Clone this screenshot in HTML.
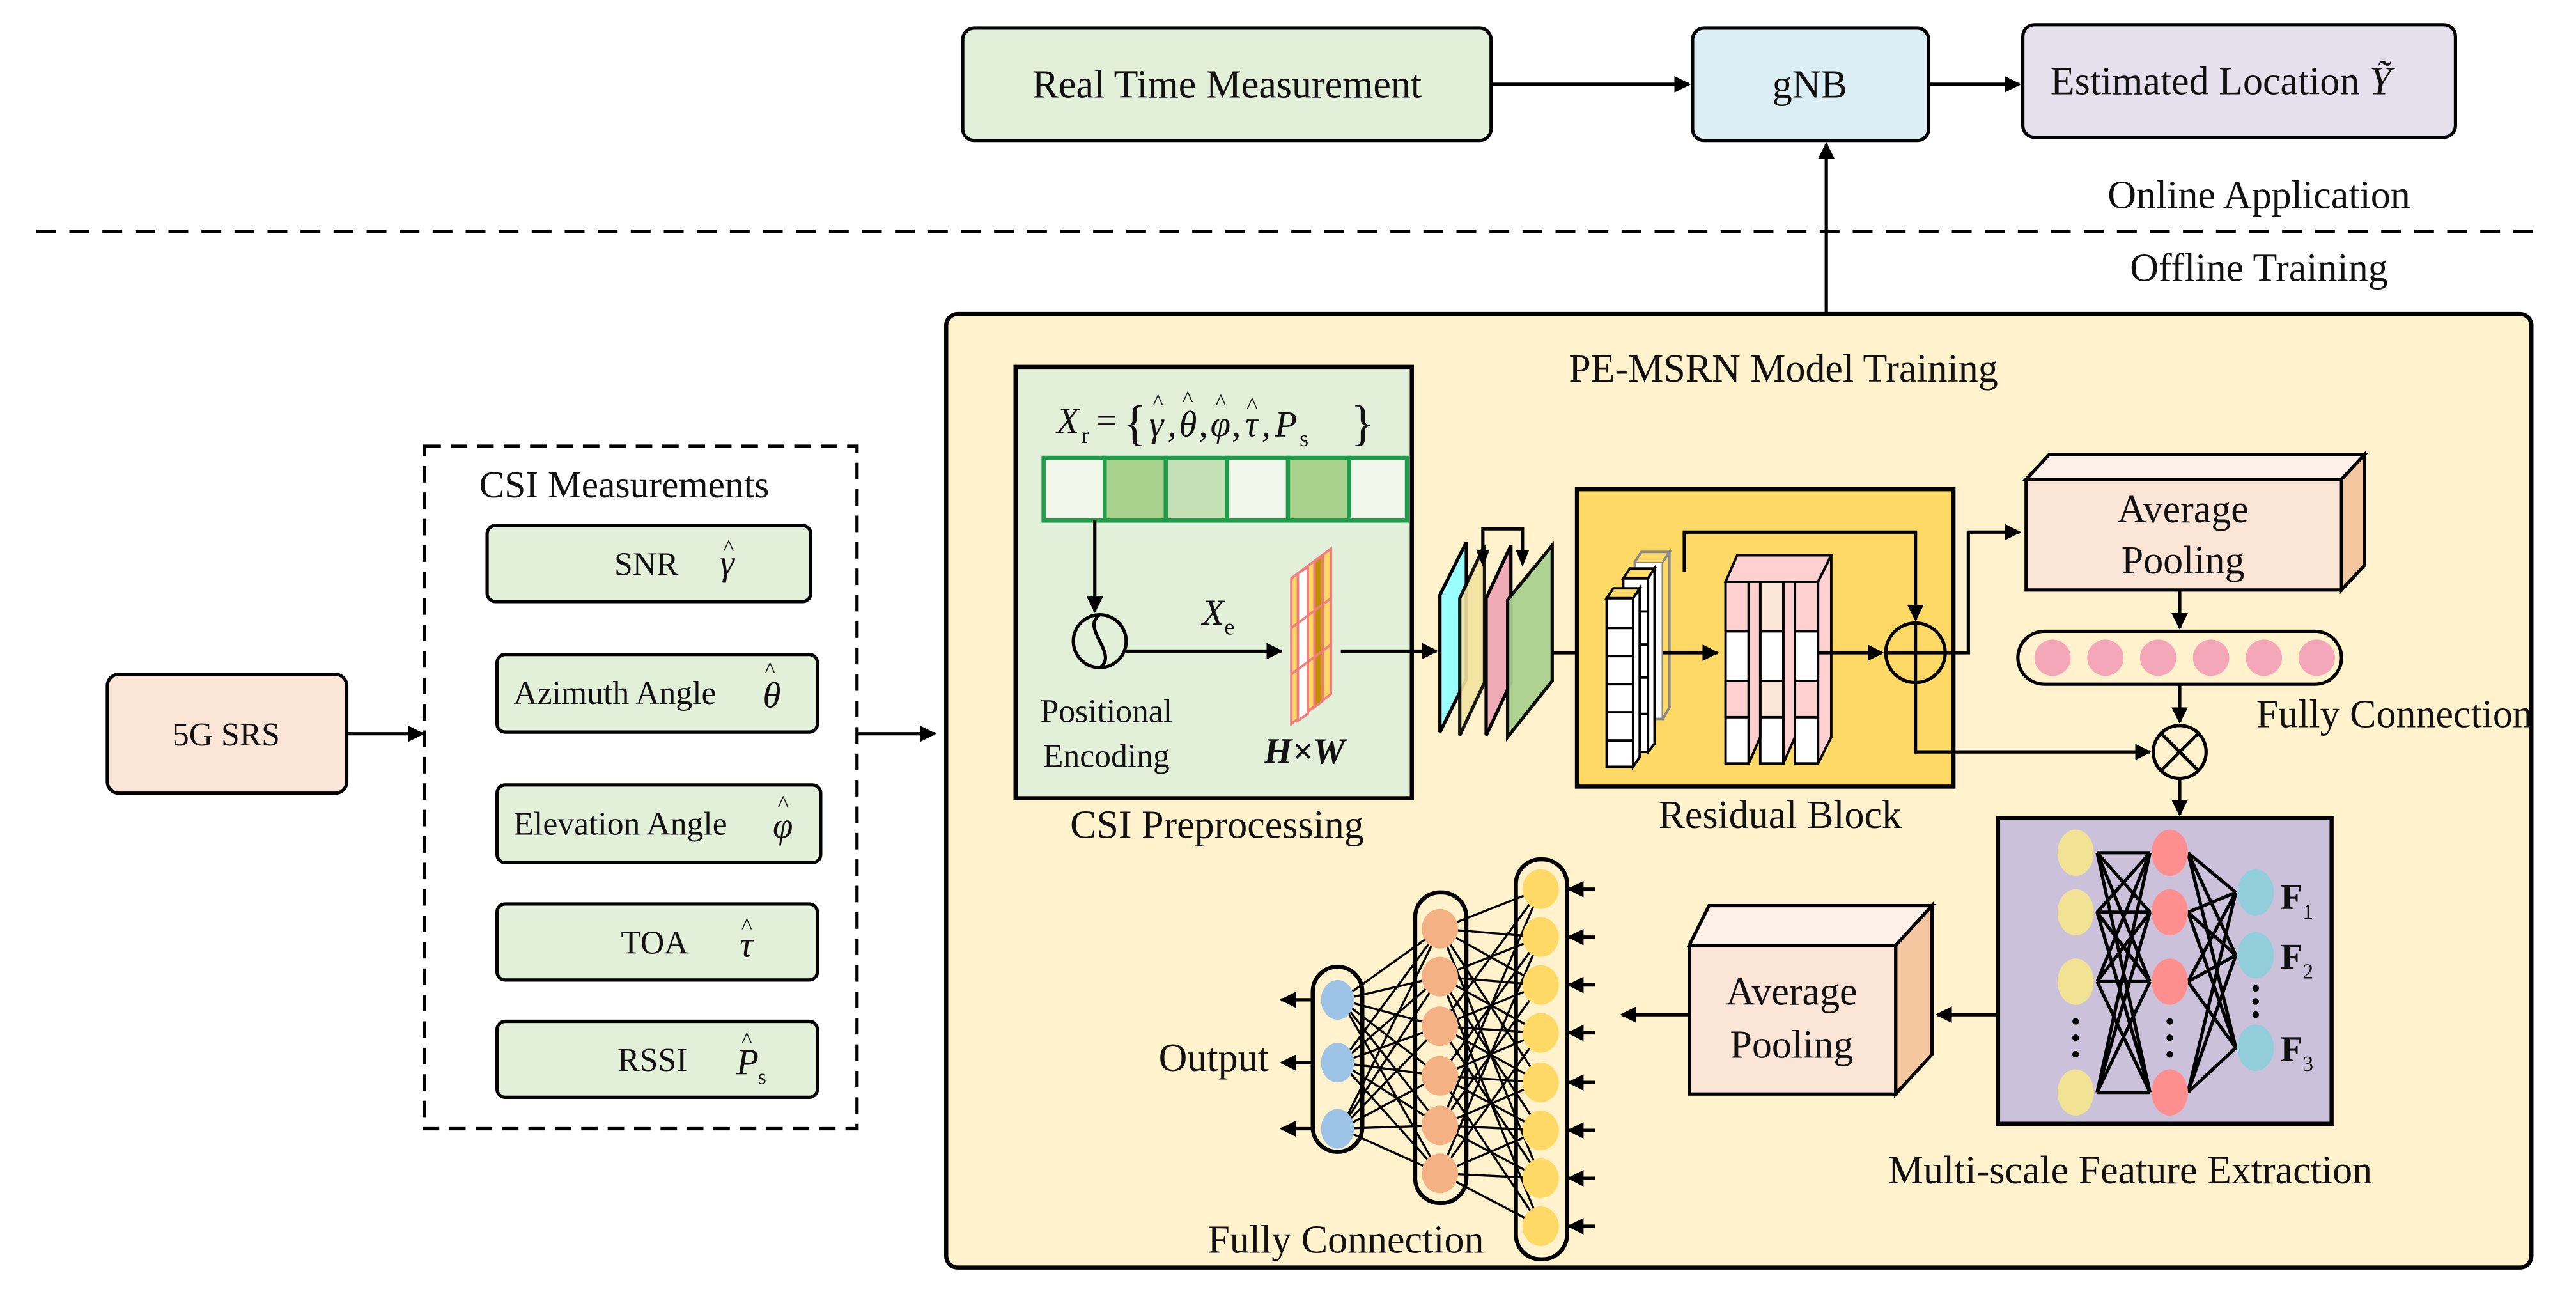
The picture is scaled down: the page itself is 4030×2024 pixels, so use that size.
<!DOCTYPE html>
<html><head><meta charset="utf-8"><style>html,body{margin:0;padding:0;background:#fff}svg{display:block}text{font-family:"Liberation Serif",serif;fill:#111}</style></head>
<body>
<svg width="4030" height="2024" viewBox="0 0 1560 783" preserveAspectRatio="none" xmlns="http://www.w3.org/2000/svg">
<defs>
<marker id="a" markerWidth="10" markerHeight="10" refX="9" refY="5" orient="auto" markerUnits="userSpaceOnUse"><path d="M0,0 L10,5 L0,10 Z" fill="#000"/></marker>
</defs>
<rect width="1560" height="783" fill="#fff"/>
<!-- top -->
<rect x="583" y="17" width="320" height="68" rx="7" fill="#e2efd9" stroke="#000" stroke-width="2"/>
<text x="743" y="59" font-size="24" text-anchor="middle">Real Time Measurement</text>
<rect x="1025" y="17" width="143" height="68" rx="7" fill="#daeef3" stroke="#000" stroke-width="2"/>
<text x="1096" y="59" font-size="24" text-anchor="middle">gNB</text>
<rect x="1225" y="15" width="262" height="68" rx="7" fill="#e6e0ec" stroke="#000" stroke-width="2"/>
<text x="1345" y="57" font-size="24" text-anchor="middle">Estimated Location <tspan font-style="italic">Ỹ</tspan></text>
<line x1="903" y1="51" x2="1023" y2="51" stroke="#000" stroke-width="2" marker-end="url(#a)"/>
<line x1="1168" y1="51" x2="1223" y2="51" stroke="#000" stroke-width="2" marker-end="url(#a)"/>
<line x1="1106" y1="190" x2="1106" y2="87" stroke="#000" stroke-width="2" marker-end="url(#a)"/>
<line x1="22" y1="140" x2="1540" y2="140" stroke="#000" stroke-width="2" stroke-dasharray="12,8"/>
<text x="1368" y="126" font-size="24" text-anchor="middle">Online Application</text>
<text x="1368" y="170" font-size="24" text-anchor="middle">Offline Training</text>
<!-- left -->
<rect x="65" y="408" width="145" height="72" rx="7" fill="#fbe5d6" stroke="#000" stroke-width="2"/>
<text x="137" y="451" font-size="20" text-anchor="middle">5G SRS</text>
<line x1="210" y1="444" x2="256" y2="444" stroke="#000" stroke-width="2" marker-end="url(#a)"/>
<rect x="257" y="270" width="262" height="413" fill="none" stroke="#000" stroke-width="2" stroke-dasharray="10,6"/>
<text x="378" y="301" font-size="23" text-anchor="middle">CSI Measurements</text>
<g stroke="#000" stroke-width="2" fill="#e2efd9">
<rect x="295" y="318" width="196" height="46" rx="5"/>
<rect x="301" y="396" width="194" height="47" rx="5"/>
<rect x="301" y="475" width="196" height="47" rx="5"/>
<rect x="301" y="547" width="194" height="46" rx="5"/>
<rect x="301" y="618" width="194" height="46" rx="5"/>
</g>
<g font-size="20">
<text x="372" y="348">SNR</text><text x="436" y="348" font-style="italic" font-size="22">γ</text><text x="438" y="336" font-size="14">^</text>
<text x="311" y="426">Azimuth Angle</text><text x="462" y="428" font-style="italic" font-size="22">θ</text><text x="463" y="410" font-size="14">^</text>
<text x="311" y="505">Elevation Angle</text><text x="468" y="507" font-style="italic" font-size="22">φ</text><text x="471" y="491" font-size="14">^</text>
<text x="376" y="577">TOA</text><text x="448" y="579" font-style="italic" font-size="22">τ</text><text x="449" y="565" font-size="14">^</text>
<text x="374" y="648">RSSI</text><text x="446" y="650" font-style="italic" font-size="22">P</text><text x="449" y="634" font-size="14">^</text><text x="459" y="656" font-size="13">s</text>
</g>
<line x1="519" y1="444" x2="566" y2="444" stroke="#000" stroke-width="2" marker-end="url(#a)"/>
<!-- main -->
<rect x="573" y="190" width="960" height="577" rx="7" fill="#fff2cc" stroke="#000" stroke-width="2.5"/>
<text x="1080" y="231" font-size="24" text-anchor="middle">PE-MSRN Model Training</text>
<!-- CSI preprocessing -->
<rect x="615" y="222" width="240" height="261" fill="#e2efd9" stroke="#000" stroke-width="2.5"/>
<g font-size="22">
<text x="640" y="262" font-style="italic">X</text><text x="655" y="268" font-size="14">r</text>
<text x="664" y="262">=</text>
<text x="680" y="266" font-size="30">{</text>
<text x="696" y="264" font-style="italic">γ</text><text x="698" y="248" font-size="14">^</text><text x="707" y="264">,</text>
<text x="714" y="264" font-style="italic">θ</text><text x="716" y="246" font-size="14">^</text><text x="726" y="264">,</text>
<text x="733" y="264" font-style="italic">φ</text><text x="736" y="248" font-size="14">^</text><text x="746" y="264">,</text>
<text x="754" y="264" font-style="italic">τ</text><text x="755" y="250" font-size="14">^</text><text x="764" y="264">,</text>
<text x="772" y="264" font-style="italic">P</text><text x="787" y="270" font-size="14">s</text>
<text x="818" y="266" font-size="30">}</text>
</g>
<g stroke="#1e9c4a" stroke-width="2.5">
<rect x="632" y="277" width="37" height="38" fill="#f0f7ea"/>
<rect x="669" y="277" width="37" height="38" fill="#a9d18e"/>
<rect x="706" y="277" width="37" height="38" fill="#c5e0b4"/>
<rect x="743" y="277" width="37" height="38" fill="#f0f7ea"/>
<rect x="780" y="277" width="37" height="38" fill="#a9d18e"/>
<rect x="817" y="277" width="35" height="38" fill="#f0f7ea"/>
</g>
<line x1="663" y1="315" x2="663" y2="370" stroke="#000" stroke-width="2" marker-end="url(#a)"/>
<circle cx="666" cy="388" r="16" fill="none" stroke="#000" stroke-width="2"/>
<path d="M666,372 C654,380 678,396 666,404" fill="none" stroke="#000" stroke-width="2"/>
<line x1="682" y1="394" x2="776" y2="394" stroke="#000" stroke-width="2" marker-end="url(#a)"/>
<text x="728" y="378" font-size="22" font-style="italic">X<tspan font-size="14" dy="6" font-style="normal">e</tspan></text>
<g stroke="#f08080" stroke-width="1.5">
<path d="M782,350 L806,332 L806,420 L782,438 Z" fill="#ffd966"/>
<path d="M786,347 L792,343 L792,432 L786,436 Z" fill="#fff"/>
<path d="M796,340 L801,336 L801,424 L796,428 Z" fill="#c09000"/>
<line x1="782" y1="380" x2="806" y2="362"/><line x1="782" y1="408" x2="806" y2="390"/>
</g>
<text x="790" y="462" font-size="22" font-style="italic" font-weight="bold" text-anchor="middle">H×W</text>
<text x="670" y="437" font-size="20" text-anchor="middle">Positional</text>
<text x="670" y="464" font-size="20" text-anchor="middle">Encoding</text>
<text x="737" y="507" font-size="24" text-anchor="middle">CSI Preprocessing</text>
<line x1="812" y1="394" x2="870" y2="394" stroke="#000" stroke-width="2" marker-end="url(#a)"/>
<!-- conv planes -->
<g stroke="#000" stroke-width="2">
<path d="M872,360 L888,328 L888,411 L872,443 Z" fill="#99ffff"/>
<path d="M884,362 L899,330 L899,413 L884,445 Z" fill="#f2e3a0" opacity="0.9"/>
<path d="M900,362 L915,330 L915,413 L900,445 Z" fill="#eeaab5"/>
<path d="M913,363 L940,330 L940,412 L913,446 Z" fill="#a9d18e" opacity="0.95"/>
<path d="M898,335 L898,320 L922,320 L922,335" fill="none"/>
</g>
<path d="M894,333 L898,343 L902,333 Z"/><path d="M918,333 L922,343 L926,333 Z"/>
<line x1="940" y1="395" x2="970" y2="395" stroke="#000" stroke-width="2" marker-end="url(#a)"/>
<!-- residual -->
<rect x="955" y="296" width="228" height="180" fill="#ffd966" stroke="#000" stroke-width="2.5"/>
<g stroke="#888" stroke-width="1.5" fill="#fff"><rect x="990" y="340" width="17" height="95"/><path d="M990,340 L994,334 L1011,334 L1007,340 M1007,340 L1011,334 L1011,428 L1007,435" fill="#ffd966"/></g>
<g stroke="#000" stroke-width="1.5"><rect x="983" y="350" width="15" height="105" fill="#fff"/><path d="M983,350 L987,344 L1002,344 L998,350 Z" fill="#ffd966"/><path d="M998,350 L1002,344 L1002,450 L998,455 Z" fill="#fff"/>
<line x1="983" y1="370" x2="998" y2="370"/><line x1="983" y1="390" x2="998" y2="390"/><line x1="983" y1="410" x2="998" y2="410"/><line x1="983" y1="432" x2="998" y2="432"/></g>
<g stroke="#000" stroke-width="1.5"><rect x="973" y="362" width="16" height="102" fill="#fff"/><path d="M973,362 L977,356 L993,356 L989,362 Z" fill="#ffd966"/><path d="M989,362 L993,356 L993,458 L989,464 Z" fill="#fff"/>
<line x1="973" y1="380" x2="989" y2="380"/><line x1="973" y1="397" x2="989" y2="397"/><line x1="973" y1="414" x2="989" y2="414"/><line x1="973" y1="431" x2="989" y2="431"/><line x1="973" y1="448" x2="989" y2="448"/></g>
<line x1="1007" y1="395" x2="1040" y2="395" stroke="#000" stroke-width="2" marker-end="url(#a)"/>
<g stroke="#000" stroke-width="1.5">
<rect x="1045" y="352" width="14" height="110" fill="#fff"/><rect x="1045" y="352" width="14" height="30" fill="#ffd0d0"/><rect x="1045" y="412" width="14" height="22" fill="#ffd0d0"/>
<rect x="1066" y="352" width="14" height="110" fill="#fff"/><rect x="1066" y="352" width="14" height="30" fill="#fbe5d6"/><rect x="1066" y="412" width="14" height="22" fill="#fbe5d6"/>
<rect x="1087" y="352" width="14" height="110" fill="#fff"/><rect x="1087" y="352" width="14" height="30" fill="#ffd0d0"/><rect x="1087" y="412" width="14" height="22" fill="#ffd0d0"/>
<path d="M1059,352 L1066,336 L1066,446 L1059,462 Z" fill="#ffd0d0"/>
<path d="M1080,352 L1087,336 L1087,446 L1080,462 Z" fill="#ffd0d0"/>
<path d="M1101,352 L1109,336 L1109,446 L1101,462 Z" fill="#ffd0d0"/>
<path d="M1045,352 L1052,336 L1109,336 L1101,352 Z" fill="#ffd0d0"/>
</g>
<line x1="1101" y1="395" x2="1140" y2="395" stroke="#000" stroke-width="2" marker-end="url(#a)"/>
<circle cx="1160" cy="395" r="18" fill="none" stroke="#000" stroke-width="2"/>
<line x1="1142" y1="395" x2="1178" y2="395" stroke="#000" stroke-width="2"/><line x1="1160" y1="377" x2="1160" y2="413" stroke="#000" stroke-width="2"/>
<path d="M1020,346 L1020,322 L1160,322 L1160,375" fill="none" stroke="#000" stroke-width="2" marker-end="url(#a)"/>
<path d="M1178,395 L1192,395 L1192,322 L1223,322" fill="none" stroke="#000" stroke-width="2" marker-end="url(#a)"/>
<path d="M1160,413 L1160,455 L1302,455" fill="none" stroke="#000" stroke-width="2" marker-end="url(#a)"/>
<text x="1078" y="501" font-size="24" text-anchor="middle">Residual Block</text>
<!-- avg pool 1 -->
<path d="M1418,290 L1432,275 L1432,342 L1418,357 Z" fill="#f4c7a0" stroke="#000" stroke-width="2"/>
<path d="M1227,290 L1241,275 L1432,275 L1418,290 Z" fill="#fdf0e8" stroke="#000" stroke-width="2"/>
<rect x="1227" y="290" width="191" height="67" fill="#fbe5d6" stroke="#000" stroke-width="2"/>
<text x="1322" y="316" font-size="24" text-anchor="middle">Average</text>
<text x="1322" y="347" font-size="24" text-anchor="middle">Pooling</text>
<line x1="1320" y1="357" x2="1320" y2="380" stroke="#000" stroke-width="2" marker-end="url(#a)"/>
<rect x="1222" y="382" width="196" height="32" rx="16" fill="#fff2cc" stroke="#000" stroke-width="2"/>
<g fill="#f4a7b9"><circle cx="1243" cy="398" r="11"/><circle cx="1275" cy="398" r="11"/><circle cx="1307" cy="398" r="11"/><circle cx="1339" cy="398" r="11"/><circle cx="1371" cy="398" r="11"/><circle cx="1403" cy="398" r="11"/></g>
<line x1="1320" y1="414" x2="1320" y2="437" stroke="#000" stroke-width="2" marker-end="url(#a)"/>
<circle cx="1320" cy="455" r="16" fill="none" stroke="#000" stroke-width="2"/>
<line x1="1309" y1="444" x2="1331" y2="466" stroke="#000" stroke-width="2"/><line x1="1331" y1="444" x2="1309" y2="466" stroke="#000" stroke-width="2"/>
<text x="1450" y="440" font-size="24" text-anchor="middle">Fully Connection</text>
<line x1="1320" y1="471" x2="1320" y2="493" stroke="#000" stroke-width="2" marker-end="url(#a)"/>
<!-- MSFE -->
<rect x="1210" y="495" width="202" height="185" fill="#ccc1da" stroke="#000" stroke-width="2.5"/>
<g stroke="#000" stroke-width="2" fill="none">
<path d="M1270,516 L1302,516 M1270,552 L1302,552 M1270,594 L1302,594 M1270,661 L1302,661"/>
<path d="M1270,516 L1302,552 M1270,516 L1302,594 M1270,516 L1302,661 M1270,552 L1302,516 M1270,552 L1302,594 M1270,552 L1302,661 M1270,594 L1302,516 M1270,594 L1302,552 M1270,594 L1302,661 M1270,661 L1302,516 M1270,661 L1302,552 M1270,661 L1302,594"/>
<path d="M1325,516 L1354,540 M1325,516 L1354,578 M1325,516 L1354,634 M1325,552 L1354,540 M1325,552 L1354,578 M1325,552 L1354,634 M1325,594 L1354,540 M1325,594 L1354,578 M1325,594 L1354,634 M1325,661 L1354,540 M1325,661 L1354,578 M1325,661 L1354,634"/>
</g>
<g fill="#f2e394"><ellipse cx="1257" cy="516" rx="11" ry="14"/><ellipse cx="1257" cy="552" rx="11" ry="14"/><ellipse cx="1257" cy="594" rx="11" ry="14"/><ellipse cx="1257" cy="661" rx="11" ry="14"/></g>
<g fill="#ff8f8f"><ellipse cx="1314" cy="516" rx="11" ry="14"/><ellipse cx="1314" cy="552" rx="11" ry="14"/><ellipse cx="1314" cy="594" rx="11" ry="14"/><ellipse cx="1314" cy="661" rx="11" ry="14"/></g>
<g fill="#92cddc"><ellipse cx="1366" cy="540" rx="11" ry="14"/><ellipse cx="1366" cy="578" rx="11" ry="14"/><ellipse cx="1366" cy="634" rx="11" ry="14"/></g>
<g fill="#000"><circle cx="1257" cy="618" r="2"/><circle cx="1257" cy="628" r="2"/><circle cx="1257" cy="638" r="2"/><circle cx="1314" cy="618" r="2"/><circle cx="1314" cy="628" r="2"/><circle cx="1314" cy="638" r="2"/><circle cx="1366" cy="598" r="2"/><circle cx="1366" cy="606" r="2"/><circle cx="1366" cy="614" r="2"/></g>
<g font-size="22" font-weight="bold"><text x="1381" y="550">F<tspan font-size="13" font-weight="normal" dy="6">1</tspan></text><text x="1381" y="586">F<tspan font-size="13" font-weight="normal" dy="6">2</tspan></text><text x="1381" y="642">F<tspan font-size="13" font-weight="normal" dy="6">3</tspan></text></g>
<text x="1290" y="716" font-size="24" text-anchor="middle">Multi-scale Feature Extraction</text>
<line x1="1210" y1="614" x2="1173" y2="614" stroke="#000" stroke-width="2" marker-end="url(#a)"/>
<!-- avg pool 2 -->
<path d="M1148,572 L1170,548 L1170,638 L1148,662 Z" fill="#f4c7a0" stroke="#000" stroke-width="2"/>
<path d="M1023,572 L1035,548 L1170,548 L1148,572 Z" fill="#fdf0e8" stroke="#000" stroke-width="2"/>
<rect x="1023" y="572" width="125" height="90" fill="#fbe5d6" stroke="#000" stroke-width="2"/>
<text x="1085" y="608" font-size="24" text-anchor="middle">Average</text>
<text x="1085" y="640" font-size="24" text-anchor="middle">Pooling</text>
<line x1="1023" y1="614" x2="982" y2="614" stroke="#000" stroke-width="2" marker-end="url(#a)"/>
<!-- FC net -->
<g stroke="#000" stroke-width="1.3">
<path d="M812,605 L872,562 M812,605 L872,591 M812,605 L872,621 M812,605 L872,651 M812,605 L872,681 M812,605 L872,710 M812,643 L872,562 M812,643 L872,591 M812,643 L872,621 M812,643 L872,651 M812,643 L872,681 M812,643 L872,710 M812,683 L872,562 M812,683 L872,591 M812,683 L872,621 M812,683 L872,651 M812,683 L872,681 M812,683 L872,710"/>
<path d="M872,562 L933,538 M872,562 L933,596 M872,562 L933,655 M872,562 L933,713 M872,591 L933,567 M872,591 L933,625 M872,591 L933,684 M872,591 L933,742 M872,621 L933,538 M872,621 L933,596 M872,621 L933,655 M872,621 L933,713 M872,651 L933,567 M872,651 L933,625 M872,651 L933,684 M872,651 L933,742 M872,681 L933,538 M872,681 L933,596 M872,681 L933,655 M872,681 L933,713 M872,710 L933,567 M872,710 L933,625 M872,710 L933,684 M872,710 L933,742 M872,562 L933,567 M872,591 L933,596 M872,621 L933,625 M872,651 L933,655 M872,681 L933,684 M872,710 L933,713"/>
</g>
<g fill="none" stroke="#000" stroke-width="2.5">
<rect x="795" y="585" width="30" height="112" rx="15"/>
<rect x="857" y="540" width="31" height="188" rx="15"/>
<rect x="918" y="520" width="31" height="242" rx="15"/>
</g>
<g fill="#9dc3e6"><ellipse cx="810" cy="605" rx="10" ry="12"/><ellipse cx="810" cy="643" rx="10" ry="12"/><ellipse cx="810" cy="683" rx="10" ry="12"/></g>
<g fill="#f4b183"><ellipse cx="872" cy="562" rx="11" ry="12"/><ellipse cx="872" cy="591" rx="11" ry="12"/><ellipse cx="872" cy="621" rx="11" ry="12"/><ellipse cx="872" cy="651" rx="11" ry="12"/><ellipse cx="872" cy="681" rx="11" ry="12"/><ellipse cx="872" cy="710" rx="11" ry="12"/></g>
<g fill="#ffd966"><ellipse cx="933" cy="538" rx="11" ry="12"/><ellipse cx="933" cy="567" rx="11" ry="12"/><ellipse cx="933" cy="596" rx="11" ry="12"/><ellipse cx="933" cy="625" rx="11" ry="12"/><ellipse cx="933" cy="655" rx="11" ry="12"/><ellipse cx="933" cy="684" rx="11" ry="12"/><ellipse cx="933" cy="713" rx="11" ry="12"/><ellipse cx="933" cy="742" rx="11" ry="12"/></g>
<g stroke="#000" stroke-width="2" marker-end="url(#a)">
<line x1="966" y1="538" x2="950" y2="538"/><line x1="966" y1="567" x2="950" y2="567"/><line x1="966" y1="596" x2="950" y2="596"/><line x1="966" y1="625" x2="950" y2="625"/><line x1="966" y1="655" x2="950" y2="655"/><line x1="966" y1="684" x2="950" y2="684"/><line x1="966" y1="713" x2="950" y2="713"/><line x1="966" y1="742" x2="950" y2="742"/>
<line x1="796" y1="605" x2="776" y2="605"/><line x1="796" y1="643" x2="776" y2="643"/><line x1="796" y1="683" x2="776" y2="683"/>
</g>
<text x="735" y="648" font-size="24" text-anchor="middle">Output</text>
<text x="815" y="758" font-size="24" text-anchor="middle">Fully Connection</text>
</svg>
</body></html>
